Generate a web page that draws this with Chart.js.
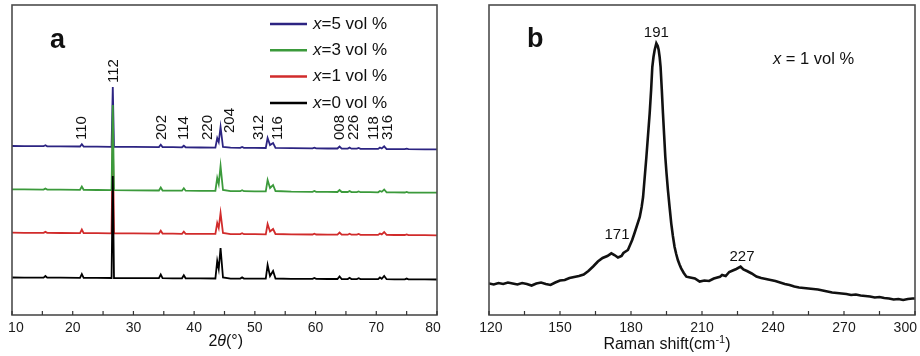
<!DOCTYPE html>
<html><head><meta charset="utf-8">
<script src="https://cdn.jsdelivr.net/npm/chart.js@4.4.1/dist/chart.umd.min.js"></script>
<style>
html,body{margin:0;padding:0;background:#fff;overflow:hidden;width:920px;height:356px;position:relative}
#wa{position:absolute;left:-20px;top:0;width:480px;height:356px}
#wb{position:absolute;left:460px;top:0;width:500px;height:356px}
</style></head>
<body>
<div id="wa"><canvas id="ca"></canvas></div>
<div id="wb"><canvas id="cb"></canvas></div>
<script>
// ---------- Panel a: XRD ----------
const twoTheta = [10,12,15.2,15.5,15.8,18,21.2,21.5,21.8,24,26.4,26.6,26.8,30,34.2,34.5,34.8,36.5,38.0,38.3,38.6,41,43.5,43.8,44.05,44.35,44.75,46,47.6,47.9,48.2,50,51.8,52.1,52.5,53.0,53.4,56,59.5,59.8,60.1,62,63.6,63.95,64.3,65.3,65.6,65.9,66.8,67.1,67.4,69,70.3,70.6,70.9,71.3,71.7,73,74.7,75.0,75.3,78,80];
const xrdX0 = [37.5,37.4,37.4,39,37.3,37.3,37.2,41,37.2,37.1,37,139,37,36.9,36.8,40.5,36.8,36.7,36.7,39.8,36.7,36.6,36.5,54,46,67,37.5,36.4,36.4,37.6,36.4,36.3,36.3,50,39,44,36.5,36.2,36.1,37,36.1,36,36,38.5,36,35.9,37.2,35.9,35.9,36.8,35.9,35.8,35.8,37.5,36.2,39,35.8,35.7,35.6,36.4,35.6,35.6,35.5];
const xrdX1 = [82.3,82.2,82.1,83.1,82.1,82.0,81.9,85.5,81.9,81.8,81.7,185,81.7,81.6,81.4,84.3,81.4,81.3,81.2,83.3,81.2,81.1,81.1,92,87,102,82,80.9,80.9,81.8,80.8,80.8,80.7,91,83.5,86,81,80.6,80.5,81.3,80.5,80.4,80.4,82.5,80.4,80.3,81.3,80.3,80.3,81,80.2,80.2,80.1,81.5,80.6,83,80.1,80.0,80.0,80.6,79.9,79.8,79.7];
const xrdX3 = [125.7,125.6,125.4,126.5,125.4,125.3,125.2,128.5,125.2,125.0,124.9,210,124.9,124.7,124.5,127.5,124.5,124.4,124.3,126.8,124.3,124.2,124.1,137,131,149,125,123.9,123.8,124.8,123.8,123.7,123.6,135,127,130,124,123.4,123.2,124,123.2,123.1,123.0,125,123.0,123.0,124,122.9,122.9,123.6,122.8,122.8,122.7,124,123.2,125.5,122.7,122.6,122.5,123.1,122.4,122.3,122.3];
const xrdX5 = [169.0,168.9,168.8,169.8,168.7,168.6,168.5,170.8,168.5,168.3,168.2,228,168.2,168.1,167.9,170.3,167.9,167.8,167.7,169.3,167.7,167.5,167.4,177,173,188,168,167.3,167.2,168,167.2,167.1,167.0,177,170,172,167.2,166.8,166.6,167.3,166.6,166.5,166.5,168.5,166.4,166.4,167.4,166.3,166.3,167,166.2,166.1,166.1,167.5,166.5,168.7,166.0,165.9,165.8,166.4,165.8,165.7,165.7];
const seriesValue = ['5','3','1','0'];              // legend order, top to bottom
const xTicksA = [10,20,30,40,50,60,70,80];
const hklLabels = ['110','112','202','114','220','204','312','116','008','226','118','316'];
const hklPos    = [21.5,26.7,34.7,38.3,42.3,45.9,50.7,53.8,64.0,66.3,69.6,71.9];
const hklBase   = [175,232,175,175,175,182,175,175,175,175,175,175];

// ---------- Panel b: Raman ----------
const ramanShift = [120,122,124,126,128,130,132,134,136,138,140,142,144,146,148,150,152,154,156,158,160,162,164,166,168,170,171.7,173,174.5,176,176.8,178.7,180.5,181.5,182.6,183.7,184.5,185.1,185.8,186.5,187.2,187.9,188.5,189.0,189.5,190.0,190.7,191.3,191.7,192.1,192.5,193.0,193.5,194.0,194.5,195.0,195.6,196.3,197.0,197.7,198.4,199.1,199.8,200.5,201.2,202.3,203.4,205,207,209,211,213,215,217.6,218.5,220,221.5,223,224.5,226.3,227.5,229,231,233,235,237,239,241,243,245,247,249,251,253,255,257,259,261,263,265,267,269,271,273,275,277,279,281,283,285,287,289,291,293,295,297,299,300];
const ramanIntensity = [31.5,30.5,32,31,32.5,31.5,30.5,32,31,29.5,31.5,32.5,31,30,32.5,34.5,35,37,38,39,40.5,44,48.5,53.5,57,59,61.7,60,57.5,59,62,65,75,82,90,98,108,118,138,158,180,202,225,248,258,265,271.7,269,265,258,248,226,202,180,158,142,125,108,91.7,79,68.3,61,55,50.5,46.7,42,38.3,37.5,36.5,33.5,34.5,34,36.5,38.3,40,39,43,44.5,46,48.3,45.5,44,41.5,38.5,37,36,35,34,32.5,31,30,28.5,27.5,27,26.5,26,25.5,24.5,23.5,22.5,22,21.5,21,20,20.5,19.5,19,18.5,17.5,18,17,16.5,15.5,16,15,16,16.5,16.5];
const xTicksB = [120,150,180,210,240,270,300];
const ramanLabels = ['191','171','227'];
const ramanLabelX = [190.7,174.1,226.9];
const ramanLabelY = [282,80,58];

const FONT = '"Liberation Sans", Arial, Helvetica, sans-serif';
const COLORS = {'0':'#000000','1':'#d12b2b','3':'#3b9a3b','5':'#2c2482'};

function toPts(xs, ys){ return xs.map((x,i)=>({x:x, y:ys[i]})); }

function drawFrame(chart, tickLen){
  const {ctx, chartArea:a} = chart, xs = chart.scales.x;
  ctx.save();
  ctx.strokeStyle = '#4d4d4d'; ctx.lineWidth = 1.6;
  ctx.strokeRect(a.left, a.top, a.right - a.left, a.bottom - a.top);
  ctx.lineWidth = 1.2; ctx.strokeStyle = '#333';
  ctx.beginPath();
  xs.ticks.forEach(t => { const p = xs.getPixelForValue(t.value); ctx.moveTo(p, a.bottom); ctx.lineTo(p, a.bottom - tickLen); });
  ctx.stroke();
  ctx.restore();
}

const plugA = {
  id:'plugA',
  afterDatasetsDraw(chart){
    const {ctx, chartArea:a} = chart, xs = chart.scales.x, ys = chart.scales.y;
    drawFrame(chart, 4);
    ctx.save();
    ctx.fillStyle = '#111';
    ctx.font = 'bold 27px ' + FONT; ctx.textBaseline = 'alphabetic'; ctx.textAlign = 'left';
    ctx.fillText('a', a.left + 38, a.top + 43);
    ctx.font = '15px ' + FONT; ctx.textBaseline = 'middle'; ctx.textAlign = 'left';
    hklLabels.forEach((t,i) => {
      ctx.save();
      ctx.translate(xs.getPixelForValue(hklPos[i]), ys.getPixelForValue(hklBase[i]));
      ctx.rotate(-Math.PI/2);
      ctx.fillText(t, 0, 0);
      ctx.restore();
    });
    seriesValue.forEach((v,i) => {
      const y = a.top + 19 + i*26.3;
      ctx.strokeStyle = COLORS[v]; ctx.lineWidth = 2.5;
      ctx.beginPath(); ctx.moveTo(a.left + 258, y); ctx.lineTo(a.left + 295, y); ctx.stroke();
      ctx.fillStyle = '#111'; ctx.textBaseline = 'middle';
      let x0 = a.left + 301;
      ctx.font = 'italic 17px ' + FONT; ctx.fillText('x', x0, y);
      x0 += ctx.measureText('x').width;
      ctx.font = '17px ' + FONT; ctx.fillText('=' + v + ' vol %', x0, y);
    });
    const parts = [['2','16px '],['θ','italic 16px '],['(°)','16px ']];
    let w = 0; parts.forEach(p => { ctx.font = p[1] + FONT; w += ctx.measureText(p[0]).width; });
    let x = xs.getPixelForValue(45.2) - w/2;
    ctx.textBaseline = 'alphabetic';
    parts.forEach(p => { ctx.font = p[1] + FONT; ctx.fillText(p[0], x, 346); x += ctx.measureText(p[0]).width; });
    ctx.restore();
  }
};

const plugB = {
  id:'plugB',
  afterDatasetsDraw(chart){
    const {ctx, chartArea:a} = chart, xs = chart.scales.x, ys = chart.scales.y;
    drawFrame(chart, 4);
    ctx.save();
    ctx.fillStyle = '#111';
    ctx.font = 'bold 27px ' + FONT; ctx.textBaseline = 'alphabetic'; ctx.textAlign = 'left';
    ctx.fillText('b', a.left + 38, a.top + 42);
    ctx.font = '15px ' + FONT; ctx.textAlign = 'center'; ctx.textBaseline = 'middle';
    ramanLabels.forEach((t,i) => ctx.fillText(t, xs.getPixelForValue(ramanLabelX[i]), ys.getPixelForValue(ramanLabelY[i])));
    ctx.textAlign = 'left';
    let x0 = xs.getPixelForValue(240);
    const yy = ys.getPixelForValue(256);
    ctx.font = 'italic 16.5px ' + FONT; ctx.fillText('x', x0, yy); x0 += ctx.measureText('x').width;
    ctx.font = '16.5px ' + FONT; ctx.fillText(' = 1 vol %', x0, yy);
    ctx.textBaseline = 'alphabetic';
    ctx.font = '16px ' + FONT;
    const s1 = 'Raman shift(cm', s3 = ')';
    const w1 = ctx.measureText(s1).width, w3 = ctx.measureText(s3).width;
    ctx.font = '11px ' + FONT; const w2 = ctx.measureText('-1').width;
    let x = xs.getPixelForValue(195.2) - (w1 + w2 + w3)/2;
    ctx.font = '16px ' + FONT; ctx.fillText(s1, x, 349); x += w1;
    ctx.font = '11px ' + FONT; ctx.fillText('-1', x, 343); x += w2;
    ctx.font = '16px ' + FONT; ctx.fillText(s3, x, 349);
    ctx.restore();
  }
};

// padFirst/padLast: spaces that nudge the two end labels inward, as in the reference
function xScale(min, max, step, labels, bottomH, padFirst, padLast){
  return {
    type:'linear', min:min, max:max,
    afterBuildTicks: s => { const t=[]; for (let v=min; v<=max+1e-9; v+=step) t.push({value:v}); s.ticks = t; },
    ticks:{ autoSkip:false, maxRotation:0, minRotation:0, padding:5, color:'#1a1a1a',
      font:{family:FONT, size:14},
      callback: v => {
        if (!labels.includes(v)) return '';
        if (v === min) return ' '.repeat(padFirst) + v;
        if (v === max) return v + ' '.repeat(padLast);
        return String(v);
      } },
    grid:{ display:true, drawOnChartArea:false, drawTicks:false, color:'rgba(0,0,0,0)' },
    border:{ display:false },
    afterFit: s => { s.height = bottomH; }
  };
}

Chart.defaults.font.family = FONT;

new Chart(document.getElementById('ca'), {
  type:'line',
  data:{ datasets:[
    {data:toPts(twoTheta, xrdX0), borderColor:COLORS['0'], borderWidth:1.8, pointRadius:0, tension:0},
    {data:toPts(twoTheta, xrdX3), borderColor:COLORS['3'], borderWidth:1.8, pointRadius:0, tension:0},
    {data:toPts(twoTheta, xrdX1), borderColor:COLORS['1'], borderWidth:1.8, pointRadius:0, tension:0},
    {data:toPts(twoTheta, xrdX5), borderColor:COLORS['5'], borderWidth:1.8, pointRadius:0, tension:0}
  ]},
  options:{
    responsive:true, maintainAspectRatio:false, animation:false, devicePixelRatio:1,
    layout:{ padding:{left:32, right:23, top:5, bottom:0} },
    scales:{ x:xScale(10,80,5,xTicksA,41,2,2), y:{display:false, min:0, max:310} },
    plugins:{ legend:{display:false}, tooltip:{enabled:false} },
    events:[]
  },
  plugins:[plugA]
});

new Chart(document.getElementById('cb'), {
  type:'line',
  data:{ datasets:[
    {data:toPts(ramanShift, ramanIntensity), borderColor:'#111', borderWidth:2.6, pointRadius:0, tension:0}
  ]},
  options:{
    responsive:true, maintainAspectRatio:false, animation:false, devicePixelRatio:1,
    layout:{ padding:{left:29, right:45, top:5, bottom:0} },
    scales:{ x:xScale(120,300,15,xTicksB,41,1,5), y:{display:false, min:0, max:310} },
    plugins:{ legend:{display:false}, tooltip:{enabled:false} },
    events:[]
  },
  plugins:[plugB]
});
</script>
</body></html>
